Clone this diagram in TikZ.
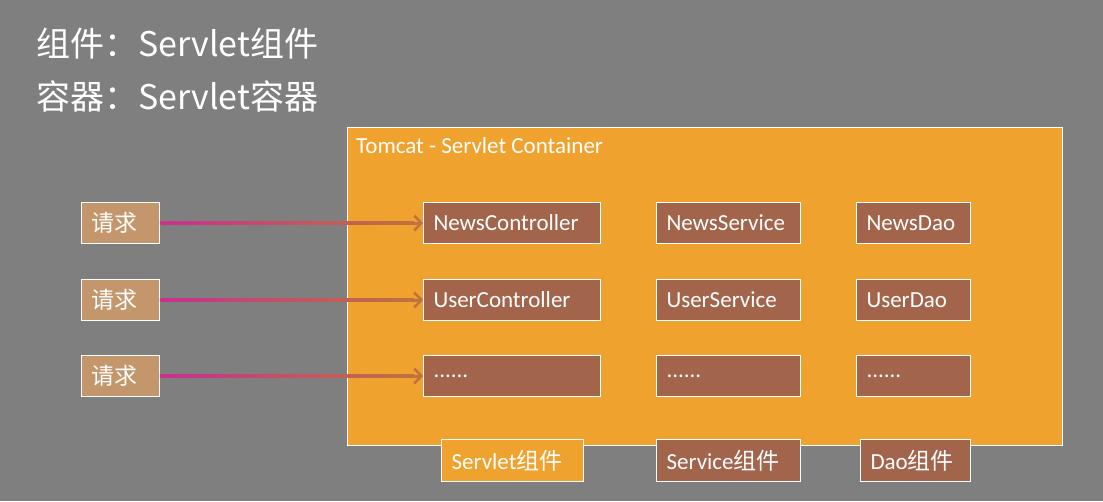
\documentclass[tikz,border=0pt]{standalone}
\usepackage{fontspec}
\setmainfont{Carlito}
\newfontfamily\cjk{Noto Sans CJK SC}
\usetikzlibrary{arrows.meta,calc}

\definecolor{slidegray}{HTML}{7F7F7F}
\definecolor{tomcatorange}{HTML}{F0A22E}
\definecolor{compbrown}{HTML}{A3644C}
\definecolor{reqtan}{HTML}{C4966C}
\definecolor{arrowpink}{HTML}{C8308E}
\definecolor{arrowbrown}{HTML}{C0723E}
\newcommand\moredots{......}

\begin{document}
\begin{tikzpicture}[x=1pt,y=-1pt,
            every node/.style={font=\fontsize{23}{26}\selectfont,text=white},
            title/.style={anchor=west,inner sep=0pt,font=\cjk\fontsize{34}{40}\selectfont},
            box/.style={draw=white,line width=1pt,anchor=north west,minimum height=41pt,inner xsep=10pt,inner ysep=0pt,align=left},
            reqbox/.style={box,fill=reqtan,text width=58pt},
            ctlbox/.style={box,fill=compbrown,text width=157pt},
            svcbox/.style={box,fill=compbrown,text width=124pt},
            daobox/.style={box,fill=compbrown,text width=94pt},
            to/.style={draw=arrowbrown,line width=3pt,-{Straight Barb[length=7pt,width=15pt,line width=2.5pt]}}]

            % background and titles
            \fill[slidegray] (0,0) rectangle (1103,501);
            \node[title] (lblcomp) at (36,44) {组件：Servlet组件};
            \node[title] (lblcont) at (36,96) {容器：Servlet容器};

            % the container
            \node[draw=white,line width=1pt,fill=tomcatorange,anchor=north west,minimum width=715pt,minimum height=318pt,inner sep=0pt] (tomcatbox) at (347,127) {};
            \node[anchor=west,inner sep=0pt] (tomcat) at (356,146) {Tomcat - Servlet Container};

            % requests and components
            \foreach \i/\y/\ctl/\svc/\dao in {1/202/NewsController/NewsService/NewsDao,
                                               2/279/UserController/UserService/UserDao,
                                               3/355/\moredots/\moredots/\moredots}{
                \node[reqbox] (req\i) at (81,\y) {\cjk 请求};
                \node[ctlbox] (ctl\i) at (423,\y) {\ctl};
                \node[svcbox] (svc\i) at (656,\y) {\svc};
                \node[daobox] (dao\i) at (856,\y) {\dao};
                \draw[to] (req\i.east) -- (ctl\i.west);
                \shade[left color=arrowpink,right color=arrowbrown] ($(req\i.east)+(0.5,-1.5)$) rectangle ($(ctl\i.west)+(-9,1.5)$);
            }

            % component labels
            \node[box,fill=tomcatorange,text width=122pt,minimum height=42pt] (servletlbl) at (441,439) {Servlet{\cjk 组件}};
            \node[svcbox,minimum height=42pt] (servicelbl) at (656,439) {Service{\cjk 组件}};
            \node[box,fill=compbrown,text width=90pt,minimum height=42pt] (daolbl) at (860,439) {Dao{\cjk 组件}};
        \end{tikzpicture}
\end{document}
